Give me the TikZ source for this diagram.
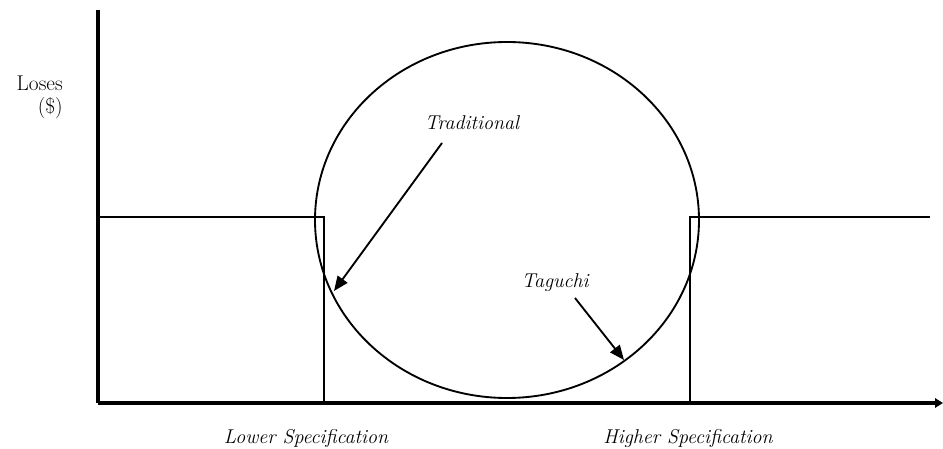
\documentclass[tikz,border=0pt]{standalone}
\usetikzlibrary{arrows.meta}
\begin{document}
\begin{tikzpicture}[x=0.75pt,y=-0.75pt,
  axis/.style={line width=3pt},
  curve/.style={line width=1.4pt},
  pointer/.style={line width=1.4pt,-{Triangle[length=11pt,width=9pt]}},
  lbl/.style={font=\fontsize{15}{18}\selectfont\itshape,inner sep=0pt},
  ylbl/.style={font=\fontsize{16}{18}\selectfont,inner sep=0pt,anchor=east}]
\useasboundingbox (0,0) rectangle (943,449);
% axes
\coordinate (O) at (98,403);
\coordinate (ytop) at (98,10);
\coordinate (xend) at (943,403);
\draw[axis] (ytop) -- (O);
\draw[axis,-{Triangle[length=6pt,width=7pt]}] (O) -- (xend);
% traditional step-loss curve
\draw[curve] (98,217) -- (324,217) -- (324,403);
\draw[curve] (690,403) -- (690,217) -- (930,217);
% Taguchi quadratic loss, drawn as an ellipse
\draw[curve] (507,220) ellipse [x radius=192, y radius=178];
% labels
\node[ylbl] (loses) at (63,83) {Loses};
\node[ylbl] (dollar) at (63,108) {(\$)};
\node[lbl] (trad) at (472,123) {Traditional};
\node[lbl] (tag) at (555,283) {Taguchi};
\node[lbl] (lower) at (306,438) {Lower Specification};
\node[lbl] (higher) at (688,438) {Higher Specification};
% pointers
\coordinate (tradtip) at (334,291);
\coordinate (tagtip) at (624,360);
\draw[pointer] (442,143) -- (tradtip);
\draw[pointer] (575,298) -- (tagtip);
\end{tikzpicture}
\end{document}
